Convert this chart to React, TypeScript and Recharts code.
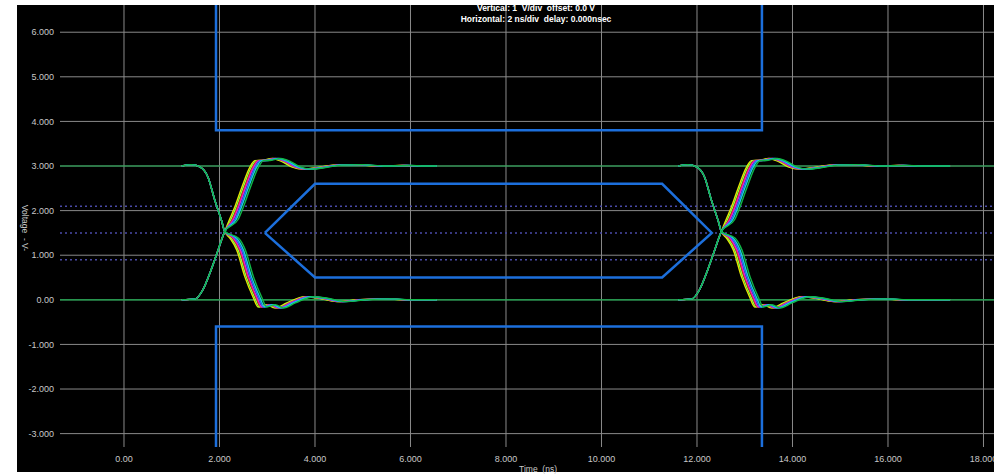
import { LineChart, Line, XAxis, YAxis, CartesianGrid, ReferenceLine } from "recharts";

const timeTicks = [0, 2, 4, 6, 8, 10, 12, 14, 16, 18];
const voltTicks = [-3, -2, -1, 0, 1, 2, 3, 4, 5, 6];

// crossing time and last sample of each eye (ns)
const eyeCrossings = [2.11, 12.51];
const eyeEnds = [6.55, 17.3];

// edge shapes as [ns from crossing, volts]
const riseLead = [[-0.9, 0], [-0.62, 0.02], [-0.46, 0.22], [-0.31, 0.6], [-0.16, 1.05], [0, 1.53]];
const riseTail = [
  [0.1, 1.8], [0.21, 2.08], [0.36, 2.53], [0.53, 2.98], [0.63, 3.12], [0.8, 3.13],
  [0.99, 3.17], [1.2, 3.1], [1.4, 2.98], [1.64, 2.93], [1.9, 2.96], [2.26, 3.02],
  [2.7, 3.03], [3.2, 3.0], [3.7, 3.01], [4.0, 3.0],
];
const fallLead = [[-0.9, 3.0], [-0.7, 3.03], [-0.52, 2.98], [-0.35, 2.75], [-0.21, 2.24], [-0.06, 1.75], [0, 1.53]];
const fallTail = [
  [0.11, 1.38], [0.25, 1.12], [0.42, 0.52], [0.59, 0.07], [0.7, -0.16], [0.88, -0.11],
  [1.05, -0.18], [1.3, -0.07], [1.68, 0.07], [2.0, 0.03], [2.34, -0.04], [2.8, 0.0],
  [3.3, 0.02], [3.8, 0.0], [4.0, 0.0],
];

const traceColors = ["#e6e600", "#8cff3c", "#e8202a", "#e020d8", "#2f6bff", "#18d0e0", "#10b848"];
const traceLags = [0, 0.03, 0.06, 0.08, 0.11, 0.14, 0.18];

// eye mask outline
const maskTop = [[1.927, 6.61], [1.927, 3.8], [13.36, 3.8], [13.36, 6.61]];
const maskCenter = [[2.95, 1.5], [4.0, 2.6], [11.27, 2.6], [12.31, 1.5], [11.27, 0.5], [4.0, 0.5], [2.95, 1.5]];
const maskBottom = [[1.927, -3.3], [1.927, -0.6], [13.36, -0.6], [13.36, -3.3]];

const thresholds = [2.1, 1.5, 0.9];
const railLevels = [3, 0];

const toPoints = (pts: number[][]) => pts.map(([t, v]) => ({ t, v }));

function buildEdge(lead: number[][], tail: number[][], crossing: number, end: number, lag: number, level: number) {
  const head = lead.map(([dt, v]) => ({ t: crossing + dt, v }));
  const rest = tail
    .filter(([dt]) => crossing + dt + lag < end)
    .map(([dt, v]) => ({ t: crossing + dt + lag, v }));
  return [...head, ...rest, { t: end, v: level }];
}

const traces: { key: string; color: string; data: { t: number; v: number }[] }[] = [];
eyeCrossings.forEach((c, e) => {
  traceColors.forEach((color, i) => {
    traces.push({ key: `r${e}-${i}`, color, data: buildEdge(riseLead, riseTail, c, eyeEnds[e], traceLags[i], 3) });
    traces.push({ key: `f${e}-${i}`, color, data: buildEdge(fallLead, fallTail, c, eyeEnds[e], traceLags[i], 0) });
  });
});

const fmt = (v: number) => (v === 0 ? "0.00" : v.toFixed(3));

const tickStyle = { fill: "#c8c8c8", fontSize: 9, fontFamily: "'Liberation Sans', Arial, sans-serif" };

export default function App() {
  return (
    <div style={{ position: "absolute", left: 0, top: 0, width: 994, height: 475, background: "#fff", overflow: "hidden" }}>
      <div style={{ position: "absolute", left: 17, top: 5, width: 977, height: 467, background: "#000" }} />
      <div style={{ position: "absolute", left: 0, top: 0 }}>
        <LineChart width={994} height={475} margin={{ top: 5, right: 0, bottom: 0, left: 0 }}>
          <CartesianGrid
            stroke="#8a8a8a"
            strokeWidth={1}
            horizontalValues={voltTicks}
            verticalValues={timeTicks}
          />
          <XAxis
            dataKey="t"
            type="number"
            domain={[-1.34, 18.22]}
            allowDataOverflow
            ticks={timeTicks}
            interval={0}
            tickFormatter={fmt}
            tick={tickStyle}
            axisLine={false}
            tickLine={false}
            tickSize={6}
            tickMargin={3}
            height={28}
          />
          <YAxis
            dataKey="v"
            type="number"
            domain={[-3.3, 6.61]}
            allowDataOverflow
            ticks={voltTicks}
            interval={0}
            tickFormatter={fmt}
            tick={tickStyle}
            axisLine={false}
            tickLine={false}
            tickSize={4}
            tickMargin={2}
            width={60}
          />
          {thresholds.map((y) => (
            <ReferenceLine key={`th${y}`} y={y} stroke="#4a4aa8" strokeWidth={1.5} strokeDasharray="2 3" />
          ))}
          {railLevels.map((y) => (
            <ReferenceLine key={`rail${y}`} y={y} stroke="#16a84a" strokeWidth={1.2} />
          ))}
          {traces.map((tr) => (
            <Line
              key={tr.key}
              data={tr.data}
              dataKey="v"
              type="monotone"
              stroke={tr.color}
              strokeWidth={1.4}
              dot={false}
              activeDot={false}
              isAnimationActive={false}
            />
          ))}
          {[maskTop, maskCenter, maskBottom].map((m, i) => (
            <Line
              key={`mask${i}`}
              data={toPoints(m)}
              dataKey="v"
              type="linear"
              stroke="#1c6fdc"
              strokeWidth={2.5}
              dot={false}
              activeDot={false}
              isAnimationActive={false}
            />
          ))}
        </LineChart>
      </div>
      <div
        style={{
          position: "absolute",
          left: 336,
          top: 3,
          width: 400,
          textAlign: "center",
          color: "#fff",
          fontFamily: "'Liberation Sans', Arial, sans-serif",
          fontWeight: "bold",
          fontSize: 8.5,
          lineHeight: "11px",
          whiteSpace: "pre",
        }}
      >
        {"Vertical: 1  V/div  offset: 0.0 V\nHorizontal: 2 ns/div  delay: 0.000nsec"}
      </div>
      <div
        style={{
          position: "absolute",
          left: 25,
          top: 228,
          transform: "translate(-50%, -50%) rotate(90deg)",
          color: "#c8c8c8",
          fontFamily: "'Liberation Sans', Arial, sans-serif",
          fontSize: 8.5,
          whiteSpace: "pre",
        }}
      >
        {"Voltage  - V-"}
      </div>
      <div
        style={{
          position: "absolute",
          left: 538,
          top: 469,
          transform: "translate(-50%, -50%)",
          color: "#c8c8c8",
          fontFamily: "'Liberation Sans', Arial, sans-serif",
          fontSize: 8.5,
          whiteSpace: "pre",
        }}
      >
        {"Time  (ns)"}
      </div>
    </div>
  );
}
